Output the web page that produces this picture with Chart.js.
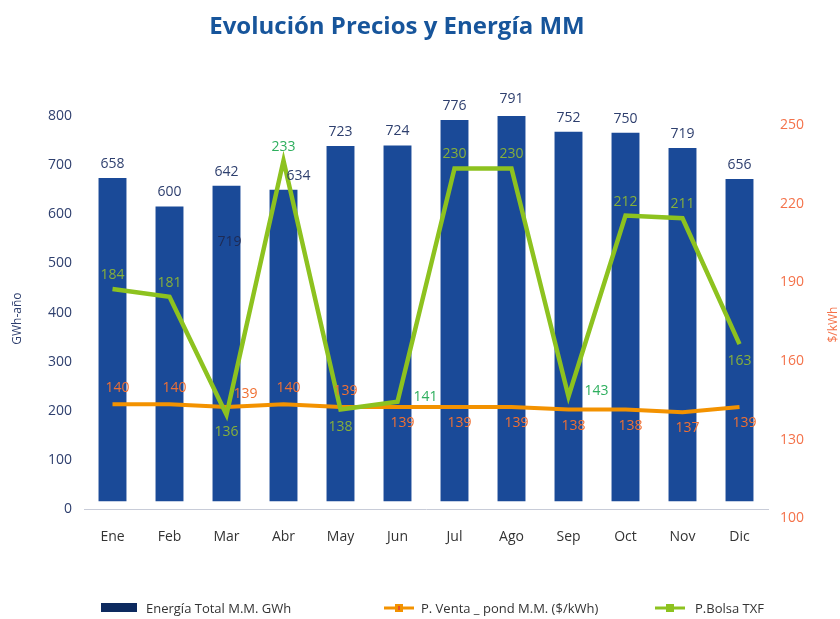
<!DOCTYPE html>
<html>
<head>
<meta charset="utf-8">
<script src="https://cdn.jsdelivr.net/npm/chart.js@4.4.1/dist/chart.umd.min.js"></script>
<style>
  html, body { margin: 0; padding: 0; background: #ffffff; }
  #wrap { width: 840px; height: 619px; }
</style>
</head>
<body>
<div id="wrap"><canvas id="chart" width="840" height="619"></canvas></div>
<script>
// data
const months = ['Ene', 'Feb', 'Mar', 'Abr', 'May', 'Jun', 'Jul', 'Ago', 'Sep', 'Oct', 'Nov', 'Dic'];
const energia = [658, 600, 642, 634, 723, 724, 776, 791, 752, 750, 719, 656];
const precioVenta = [140, 140, 139, 140, 139, 139, 139, 139, 138, 138, 137, 139];
const precioBolsa = [184, 181, 136, 233, 138, 141, 230, 230, 143, 212, 211, 163];
const energiaTicks = [0, 100, 200, 300, 400, 500, 600, 700, 800];
const precioTicks = [100, 130, 160, 190, 220, 250];
// stray label that sits inside the Mar bar in the original
const strayText = '719';
const strayMonth = 2;
const strayValue = 544;

// where each value label goes
const ventaPlace = ['top', 'top', 'topright', 'top', 'top', 'bottom', 'bottom', 'bottom', 'bottom', 'bottom', 'bottom', 'bottom'];
const bolsaPlace = ['top', 'top', 'bottom', 'top', 'bottom', 'right', 'top', 'top', 'right', 'top', 'top', 'bottom'];
const bolsaBright = [false, false, false, true, false, true, false, false, true, false, false, false];

const FONT = '"Open Sans", "Liberation Sans", sans-serif';

const valueLabels = {
  id: 'valueLabels',
  afterDatasetsDraw(chart) {
    const ctx = chart.ctx;
    ctx.save();
    ctx.font = '14px ' + FONT;
    ctx.textAlign = 'center';
    ctx.textBaseline = 'middle';

    // bar labels
    chart.getDatasetMeta(0).data.forEach((bar, i) => {
      const dx = i === 3 ? 15 : 0;
      ctx.fillStyle = '#2E3F6E';
      ctx.fillText(energia[i], bar.x + dx, bar.y - 14);
    });

    // stray label
    const xs = chart.scales.x.getPixelForValue(strayMonth);
    const ys = chart.scales.y.getPixelForValue(strayValue);
    ctx.fillStyle = '#1E2B55';
    ctx.fillText(strayText, xs + 3, ys);

    // venta labels
    chart.getDatasetMeta(1).data.forEach((pt, i) => {
      let dx = 5, dy = -16;
      if (ventaPlace[i] === 'topright') { dx = 19; dy = -13; }
      if (ventaPlace[i] === 'bottom') { dx = 5; dy = 16; }
      ctx.fillStyle = '#F07033';
      ctx.fillText(precioVenta[i], pt.x + dx, pt.y + dy);
    });

    // bolsa labels
    chart.getDatasetMeta(2).data.forEach((pt, i) => {
      let dx = 0, dy = -14;
      if (bolsaPlace[i] === 'bottom') { dy = 17; }
      if (bolsaPlace[i] === 'right') { dx = 28; dy = -5; }
      ctx.fillStyle = bolsaBright[i] ? '#2EAF5E' : '#86B03A';
      ctx.fillText(precioBolsa[i], pt.x + dx, pt.y + dy);
    });
    ctx.restore();
  },
  afterDraw(chart) {
    const ctx = chart.ctx;
    const area = chart.chartArea;

    // title (sits a little left of centre in the original)
    ctx.save();
    ctx.font = 'bold 24px ' + FONT;
    ctx.textAlign = 'center';
    ctx.textBaseline = 'middle';
    ctx.fillStyle = '#17559B';
    ctx.fillText('Evolución Precios y Energía MM', 397, 27);
    ctx.restore();

    // axis titles
    ctx.save();
    ctx.font = '12px ' + FONT;
    ctx.textAlign = 'center';
    ctx.textBaseline = 'middle';
    ctx.fillStyle = '#2E3F6E';
    ctx.translate(18, (area.top + area.bottom) / 2 + 6);
    ctx.rotate(-Math.PI / 2);
    ctx.fillText('GWh-año', 0, 0);
    ctx.restore();

    ctx.save();
    ctx.font = '12px ' + FONT;
    ctx.textAlign = 'center';
    ctx.textBaseline = 'middle';
    ctx.fillStyle = '#F4724A';
    ctx.translate(834, (area.top + area.bottom) / 2 + 12);
    ctx.rotate(-Math.PI / 2);
    ctx.fillText('$/kWh', 0, 0);
    ctx.restore();

    // legend
    ctx.save();
    const ly = 608;
    ctx.font = '13px ' + FONT;
    ctx.textBaseline = 'middle';
    ctx.textAlign = 'left';
    ctx.fillStyle = '#0D2A5F';
    ctx.fillRect(101, ly - 5, 36, 9);
    ctx.fillStyle = '#333333';
    ctx.fillText('Energía Total M.M. GWh', 146, ly + 1);

    ctx.strokeStyle = '#F39200';
    ctx.lineWidth = 3;
    ctx.beginPath(); ctx.moveTo(384, ly); ctx.lineTo(414, ly); ctx.stroke();
    ctx.fillStyle = '#F39200';
    ctx.fillRect(395, ly - 4, 8, 8);
    ctx.fillStyle = '#E5502A';
    ctx.fillRect(398, ly - 2, 2, 4);
    ctx.fillStyle = '#333333';
    ctx.fillText('P. Venta _ pond M.M. ($/kWh)', 421, ly + 1);

    ctx.strokeStyle = '#8DC21F';
    ctx.beginPath(); ctx.moveTo(655, ly); ctx.lineTo(685, ly); ctx.stroke();
    ctx.fillStyle = '#8DC21F';
    ctx.fillRect(666, ly - 4, 8, 8);
    ctx.fillStyle = '#333333';
    ctx.fillText('P.Bolsa TXF', 695, ly + 1);
    ctx.restore();
  }
};

new Chart(document.getElementById('chart'), {
  type: 'bar',
  data: {
    labels: months,
    datasets: [
      {
        type: 'bar',
        label: 'Energía Total M.M. GWh',
        data: energia,
        yAxisID: 'yBar',
        backgroundColor: '#1A4A98',
        borderWidth: 0,
        barPercentage: 0.49,
        categoryPercentage: 1,
        order: 2
      },
      {
        type: 'line',
        label: 'P. Venta _ pond M.M. ($/kWh)',
        data: precioVenta,
        yAxisID: 'y1',
        borderColor: '#F39200',
        borderWidth: 4,
        pointRadius: 0,
        tension: 0,
        order: 1
      },
      {
        type: 'line',
        label: 'P.Bolsa TXF',
        data: precioBolsa,
        yAxisID: 'y1',
        borderColor: '#8DC21F',
        borderWidth: 4.5,
        pointRadius: 0,
        tension: 0,
        order: 0
      }
    ]
  },
  options: {
    responsive: false,
    animation: false,
    devicePixelRatio: 1,
    layout: { padding: { left: 0, right: 0, top: 116, bottom: 55 } },
    plugins: {
      legend: { display: false },
      tooltip: { enabled: false },
      title: { display: false }
    },
    scales: {
      x: {
        grid: { display: false, drawTicks: false },
        border: { display: true, color: '#C8CCD8', width: 1 },
        ticks: { color: '#333333', font: { family: FONT, size: 14 }, padding: 19 }
      },
      y: {
        position: 'left',
        min: 0,
        max: 800,
        afterBuildTicks: s => { s.ticks = energiaTicks.map(v => ({ value: v })); },
        afterFit: s => { s.width = 84; },
        grid: { display: false, drawTicks: false },
        border: { display: false },
        ticks: { color: '#2E3F6E', font: { family: FONT, size: 14 }, padding: 12 }
      },
      yBar: {
        display: false,
        min: -16,
        max: 784
      },
      y1: {
        position: 'right',
        min: 100,
        max: 250,
        afterBuildTicks: s => { s.ticks = precioTicks.map(v => ({ value: v })); },
        afterFit: s => { s.width = 72; },
        grid: { display: false, drawTicks: false },
        border: { display: false },
        ticks: { color: '#F4724A', font: { family: FONT, size: 14 }, padding: 12, labelOffset: 9 }
      }
    }
  },
  plugins: [valueLabels]
});
</script>
</body>
</html>
